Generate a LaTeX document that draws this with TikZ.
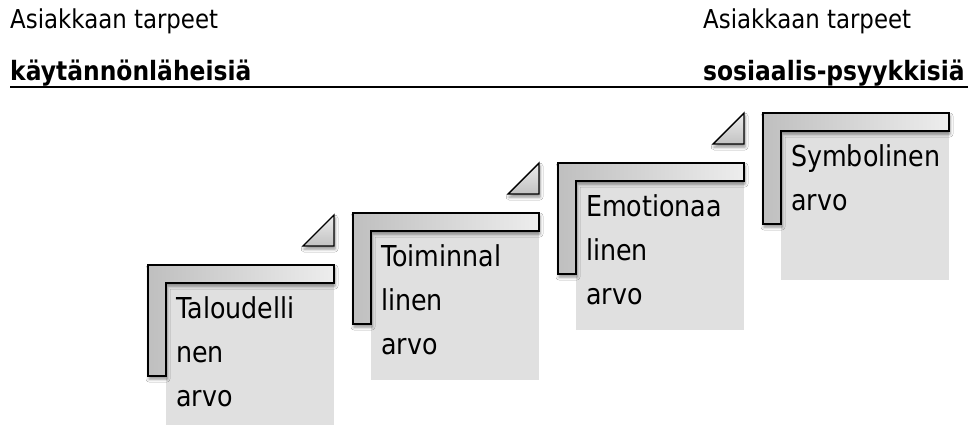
\documentclass[tikz,border=0pt]{standalone}
\usepackage{fontspec}
\setmainfont{DejaVu Sans}[FakeStretch=0.88]
\usetikzlibrary{shadows.blur}
\tikzset{
  header/.style={anchor=base west, inner sep=0pt, font=\fontsize{26}{30}\selectfont},
  headbold/.style={anchor=base west, inner sep=0pt, font=\fontsize{26.6}{30}\selectfont\bfseries},
  boxtext/.style={anchor=base west, inner sep=0pt, font=\fontsize{28.8}{44}\selectfont},
  panel/.style={fill=black!12},
  softshadow/.style={blur shadow={shadow xshift=1pt, shadow yshift=-3pt,
      shadow blur radius=3pt, shadow opacity=45}},
  bracket/.style={draw=black, line width=1.4pt, line join=miter,
      left color=black!25, right color=black!7, softshadow},
  wedge/.style={draw=black, line width=1.4pt, line join=miter,
      top color=black!7, bottom color=black!24, softshadow},
}
\begin{document}
\begin{tikzpicture}[x=1pt, y=-1pt]
  \clip (0,0) rectangle (970,424);
  \fill[white] (0,0) rectangle (970,424);

  % headings
  \node[header] (needsL) at (10,28) {Asiakkaan tarpeet};
  \node[header] (needsR) at (703,28) {Asiakkaan tarpeet};
  \node[headbold] (practical) at (10,80) {käytännönläheisiä};
  \node[headbold] (social) at (703,80) {sosiaalis-psyykkisiä};
  \coordinate (ulstart) at (10,87);
  \coordinate (ulend) at (968,87);
  \draw[line width=2.2pt] (ulstart) -- (ulend);

  % the four value steps
  \foreach \i/\x/\y in {1/148/265, 2/353/213, 3/558/163, 4/763/113} {
    \fill[panel] (\x+18,\y+18) rectangle (\x+186,\y+167);
    \path[bracket] (\x,\y) -- (\x+186,\y) -- (\x+186,\y+18) -- (\x+18,\y+18)
      -- (\x+18,\y+111) -- (\x,\y+111) -- cycle;
    \ifnum\i<4
      \path[wedge] (\x+155,\y-19) -- (\x+186,\y-19) -- (\x+186,\y-50) -- cycle;
    \fi
    \coordinate (txt\i) at (\x+28,\y+53);
  }

  \node[boxtext] (v1a) at (txt1) {Taloudelli};
  \node[boxtext] (v1b) at ([yshift=-44pt]txt1) {nen};
  \node[boxtext] (v1c) at ([yshift=-88pt]txt1) {arvo};

  \node[boxtext] (v2a) at (txt2) {Toiminnal};
  \node[boxtext] (v2b) at ([yshift=-44pt]txt2) {linen};
  \node[boxtext] (v2c) at ([yshift=-88pt]txt2) {arvo};

  \node[boxtext] (v3a) at (txt3) {Emotionaa};
  \node[boxtext] (v3b) at ([yshift=-44pt]txt3) {linen};
  \node[boxtext] (v3c) at ([yshift=-88pt]txt3) {arvo};

  \node[boxtext] (v4a) at (txt4) {Symbolinen};
  \node[boxtext] (v4b) at ([yshift=-44pt]txt4) {arvo};
\end{tikzpicture}
\end{document}
